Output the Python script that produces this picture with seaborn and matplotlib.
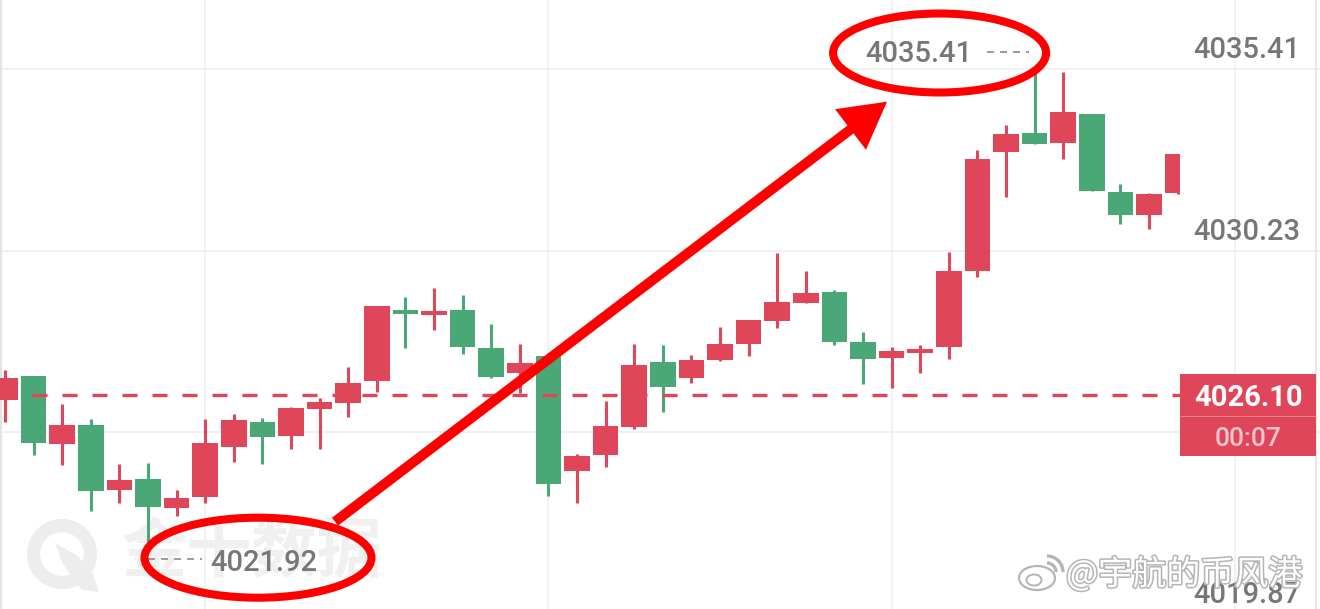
import numpy as np
import pandas as pd
import matplotlib
matplotlib.use("Agg")
import matplotlib.pyplot as plt
import matplotlib.transforms as mtransforms
import matplotlib.patheffects as pe
from matplotlib.patches import Ellipse, Rectangle, FancyArrowPatch, Polygon, Arc
import seaborn as sns

# --- data (1 candle per bar, oldest first) ---
opens = [4025.96, 4026.65, 4024.70, 4025.24, 4023.40, 4023.70, 4022.89, 4023.20,
         4024.61, 4025.34, 4024.94, 4025.71, 4025.87, 4026.51, 4028.53, 4028.39,
         4028.53, 4027.44, 4026.73, 4027.22, 4023.95, 4024.39, 4025.18, 4027.04,
         4026.58, 4027.11, 4027.56, 4028.23, 4028.74, 4029.05, 4027.61, 4027.15,
         4027.31, 4027.47, 4029.64, 4033.05, 4033.59, 4033.31, 4034.13, 4031.89,
         4031.23, 4031.88]
highs = [4026.82, 4026.66, 4025.85, 4025.41, 4024.14, 4024.16, 4023.40, 4025.42,
         4025.56, 4025.44, 4025.77, 4026.01, 4026.91, 4028.65, 4028.91, 4029.15,
         4028.96, 4028.12, 4027.55, 4027.23, 4024.42, 4025.94, 4027.56, 4027.53,
         4027.25, 4028.04, 4028.26, 4030.17, 4029.64, 4029.10, 4027.90, 4027.48,
         4027.53, 4030.20, 4033.10, 4033.81, 4035.41, 4035.33, 4034.14, 4032.13,
         4031.88, 4032.98]
lows = [4025.33, 4024.39, 4024.11, 4022.80, 4023.02, 4021.92, 4022.65, 4023.02,
        4024.19, 4024.14, 4024.57, 4024.57, 4025.49, 4026.19, 4027.44, 4027.96,
        4027.28, 4026.58, 4026.15, 4023.22, 4023.03, 4024.06, 4025.13, 4025.61,
        4026.46, 4027.07, 4027.23, 4028.02, 4028.72, 4027.54, 4026.42, 4026.31,
        4026.74, 4027.13, 4029.48, 4031.75, 4033.26, 4032.84, 4031.93, 4030.98,
        4030.84, 4031.84]
closes = [4026.58, 4024.75, 4025.24, 4023.37, 4023.68, 4022.90, 4023.18, 4024.73,
          4025.39, 4024.90, 4025.73, 4025.90, 4026.46, 4028.65, 4028.41, 4028.50,
          4027.48, 4026.63, 4027.03, 4023.57, 4024.37, 4025.22, 4026.96, 4026.33,
          4027.11, 4027.57, 4028.25, 4028.75, 4029.01, 4027.61, 4027.14, 4027.36,
          4027.41, 4029.64, 4032.84, 4033.56, 4033.26, 4034.17, 4031.93, 4031.24,
          4031.85, 4032.98]

grid_prices = [4019.87, 4025.05, 4030.23, 4035.41]
label_prices = [4019.87, 4030.23, 4035.41]   # the 4025.05 label sits under the price tag
label_texts = ["4019.87", "4030.23", "4035.41"]
vgrid_bars = [7, 19, 31, 43]
last_price = 4026.10
last_label = "4026.10"
countdown = "00:07"

UP = "#E0465A"
DOWN = "#4AA876"
LABEL_GRAY = "#777777"
MARK_RED = "#FF0000"

W, H = 1320, 609
BAR_PX = 28.6          # pixel spacing of one candle
FIRST_PX = 5           # pixel centre of first candle
TOP_GRID_PX = 69       # pixel row of the top grid line
PX_PER_PRICE = 35.04   # vertical pixels per 1.0 of price
AREA_RIGHT_PX = 1180   # candles are clipped here

df = pd.DataFrame({"open": opens, "high": highs, "low": lows, "close": closes})
df["i"] = np.arange(len(df))
df["up"] = df["close"] >= df["open"]

x0 = -FIRST_PX / BAR_PX
x1 = (W - FIRST_PX) / BAR_PX
y1 = grid_prices[-1] + TOP_GRID_PX / PX_PER_PRICE
y0 = y1 - H / PX_PER_PRICE
clip_x = (AREA_RIGHT_PX - FIRST_PX) / BAR_PX
dx = 1 / BAR_PX        # one pixel in x data units
dy = 1 / PX_PER_PRICE  # one pixel in y data units

sns.set_theme(style="white")
plt.rcParams["font.family"] = ["Roboto", "DejaVu Sans"]
CJK = ["Noto Sans CJK SC", "DejaVu Sans"]

fig = plt.figure(figsize=(W / 100, H / 100), dpi=100)
ax = fig.add_axes([0, 0, 1, 1])
ax.set_xlim(x0, x1)
ax.set_ylim(y0, y1)
ax.axis("off")

# grid
ax.hlines(grid_prices, x0, x1, colors="#ededed", lw=1.1, zorder=0)
ax.vlines(vgrid_bars, y0, y1, colors="#ededed", lw=1.1, zorder=0)
ax.plot([0.0008, 0.0008], [0, 1], transform=ax.transAxes, color="#e4e4e4", lw=1.6, zorder=0)
ax.plot([1316 / W, 1316 / W], [0, 1], transform=ax.transAxes, color="#e4e4e4", lw=1.2, zorder=0)

# watermark (behind the candles)
ax.text(122 / W, 1 - 553 / H, "金十数据", transform=ax.transAxes, ha="left", va="center",
        fontsize=47, fontweight="bold", color="#f0f0f0", family=CJK, zorder=0.5)
ax.add_patch(Ellipse((62 / W, 1 - 554 / H), 57 / W, 57 / H, transform=ax.transAxes,
                     fill=False, ec="#ededed", lw=9.5, zorder=0.5))
rocket = [(55, 543), (78, 556), (92, 572), (99, 592), (82, 590), (72, 578), (62, 562)]
ax.add_patch(Polygon([(a / W, 1 - b / H) for a, b in rocket], closed=True,
                     transform=ax.transAxes, fc="#ededed", ec="none", zorder=0.5))

# candles
clip = Rectangle((x0, y0), clip_x - x0, y1 - y0, transform=ax.transData)
colors = np.where(df["up"], UP, DOWN)
body_lo = df[["open", "close"]].min(axis=1)
body_h = (df["close"] - df["open"]).abs().clip(lower=0.6 * dy)
wicks = ax.vlines(df["i"], df["low"], df["high"], colors=colors, lw=2.2, zorder=2)
wicks.set_clip_path(clip)
bars = ax.bar(df["i"], body_h, bottom=body_lo, width=0.89, color=colors, lw=0, zorder=2.1)
for b in bars:
    b.set_clip_path(clip)

# current price line
ax.hlines(last_price, 0.95, clip_x, colors=UP, lw=2.4, linestyles=(0, (4.5, 4.5)), zorder=3)

# right axis labels
for p, lab in zip(label_prices, label_texts):
    ax.annotate(lab, xy=(1300 / W, p), xycoords=("axes fraction", "data"),
                xytext=(0, 19), textcoords="offset pixels", ha="right", va="center",
                fontsize=21, color=LABEL_GRAY, fontweight="medium", zorder=4)

# price tag
blend = mtransforms.blended_transform_factory(ax.transAxes, ax.transData)
ax.add_patch(Rectangle((AREA_RIGHT_PX / W, last_price - 61 * dy), (1316 - AREA_RIGHT_PX) / W,
                       82 * dy, transform=blend, fc=UP, ec="none", zorder=6))
ax.plot([AREA_RIGHT_PX / W, 1316 / W], [last_price - 21 * dy] * 2, transform=blend,
        color="#f08a97", lw=0.6, zorder=6.5)
ax.text(1248 / W, last_price - 3 * dy, last_label, transform=blend, ha="center", va="center",
        fontsize=21, color="white", fontweight="bold", zorder=7)
ax.text(1248 / W, last_price - 44 * dy, countdown, transform=blend, ha="center", va="center",
        fontsize=19, color="#f7c5cc", fontweight="medium", zorder=7)

# high / low markers
hi_i = int(np.argmax(highs))
lo_i = int(np.argmin(lows))
hi, lo = highs[hi_i], lows[lo_i]

ax.annotate(f"{hi:.2f}", xy=(hi_i, hi), xytext=(-62, 15), textcoords="offset pixels",
            ha="right", va="center", fontsize=21, color=LABEL_GRAY, fontweight="medium", zorder=5)
ax.plot([hi_i - 48 * dx, hi_i - 6 * dx], [hi + 17 * dy] * 2, color="#8a8a8a", lw=1.2,
        ls=(0, (4.2, 3.6)), zorder=5)
ax.annotate(f"{lo:.2f}", xy=(lo_i, lo), xytext=(62, -21), textcoords="offset pixels",
            ha="left", va="center", fontsize=21, color=LABEL_GRAY, fontweight="medium", zorder=5)
ax.plot([lo_i, lo_i + 54 * dx], [lo - 17 * dy] * 2, color="#8a8a8a", lw=1.2,
        ls=(0, (4.2, 3.6)), zorder=5)

# red hand-drawn style marks
ax.add_patch(Ellipse((hi_i - 95 * dx, hi + 16 * dy), 213 * dx, 79 * dy, fill=False,
                     ec=MARK_RED, lw=5.8, zorder=8))
ax.add_patch(Ellipse((lo_i + 110 * dx, lo - 16 * dy), 227 * dx, 80 * dy, fill=False,
                     ec=MARK_RED, lw=5.8, zorder=8))
arrow = FancyArrowPatch((lo_i + 187 * dx, lo + 20 * dy), (hi_i - 147.6 * dx, hi - 32.7 * dy),
                        arrowstyle="simple,head_length=3.3,head_width=3.67,tail_width=0.72",
                        mutation_scale=10, fc=MARK_RED, ec="none", shrinkA=0, shrinkB=0,
                        zorder=8)
ax.add_patch(arrow)

# weibo watermark
stroke = [pe.withStroke(linewidth=2.2, foreground="#b5b5b5")]
ax.text(1066 / W, 1 - 575 / H, "@宇航的币风港", transform=ax.transAxes, ha="left", va="center",
        fontsize=24.5, color="white", family=CJK, path_effects=stroke, zorder=10)
ax.add_patch(Ellipse((1037 / W, 1 - 578 / H), 36 / W, 24 / H, transform=ax.transAxes,
                     fc="white", ec="#b5b5b5", lw=1.6, zorder=10))
ax.add_patch(Ellipse((1034 / W, 1 - 580 / H), 15 / W, 11 / H, transform=ax.transAxes,
                     fc="white", ec="#b5b5b5", lw=1.4, zorder=10))
for r in (9, 16):
    ax.add_patch(Arc((1047 / W, 1 - 572 / H), 2 * r / W, 2 * r / H, theta1=0, theta2=90,
                     transform=ax.transAxes, ec="#b5b5b5", lw=2.4, zorder=10))

fig.savefig("out.png", dpi=100)
